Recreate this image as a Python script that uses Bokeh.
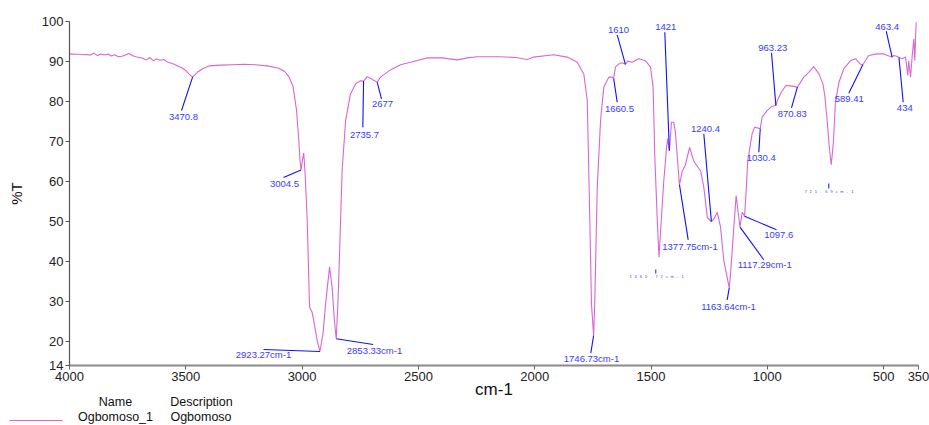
import numpy as np
from bokeh.plotting import figure
from bokeh.models import Range1d, FixedTicker
from bokeh.core.properties import value
from bokeh.embed import file_html
from bokeh.resources import INLINE

# ---------------- data ----------------
wavenumber = [4000, 3985, 3970, 3955, 3940, 3925, 3910, 3895, 3880, 3865, 3850, 3835, 3820, 3805,
              3790, 3775, 3760, 3745, 3730, 3715, 3700, 3685, 3670, 3655, 3640, 3625, 3610, 3595,
              3580, 3565, 3550, 3535, 3520, 3500, 3485, 3470.8, 3450, 3428, 3400, 3350, 3300, 3250,
              3200, 3150, 3100, 3075, 3058, 3039, 3024, 3015, 3009, 3004.5, 2998, 2993, 2987, 2978,
              2968, 2957, 2950, 2935, 2923.27, 2910, 2899, 2882, 2871, 2861, 2853.33, 2845, 2839,
              2828, 2813, 2792, 2770, 2749, 2735.7, 2720, 2700, 2677, 2663, 2620, 2577, 2534, 2462,
              2400, 2333, 2290, 2247, 2147, 2080, 2032, 2005, 1919, 1860, 1817, 1789, 1774, 1763,
              1756, 1746.73, 1742, 1731, 1717, 1703, 1681, 1667, 1660.5, 1653, 1638, 1625, 1610,
              1600, 1581, 1552, 1524, 1502, 1491, 1484, 1473, 1465.72, 1456, 1445, 1433, 1428, 1421,
              1412, 1402, 1395, 1377.75, 1366, 1352, 1334, 1316, 1295, 1287, 1273, 1258, 1240.4,
              1231, 1215, 1201, 1187, 1163.64, 1158, 1147, 1134, 1117.29, 1108, 1097.6, 1090, 1084,
              1065, 1054, 1030.4, 1022, 1000, 980, 963.23, 955, 940, 920, 900, 870.83, 843, 822,
              800, 778, 761, 753, 742, 733, 725, 716, 707, 692, 671, 642, 621, 599, 589.41, 564,
              528, 499, 477, 463.4, 456, 444, 434, 420, 406, 396, 392, 384, 377, 370, 366, 360]
transmittance = [91.9, 91.85, 91.8, 91.8, 91.7, 91.75, 91.6, 92.1, 91.5, 91.9, 91.6, 91.9, 91.4, 91.7,
                 91.2, 91.3, 91.6, 92.0, 91.5, 91.2, 91.0, 90.8, 90.4, 91.0, 90.2, 90.6, 90.3, 90.5,
                 89.9, 89.6, 89.3, 88.9, 88.5, 87.8, 86.8, 86.1, 87.3, 88.2, 88.9, 89.1, 89.2, 89.3,
                 89.2, 88.9, 88.3, 87.5, 86.3, 83.8, 77.8, 71.0, 65.3, 62.9, 65.5, 67.1, 62.0, 50.3,
                 28.6, 27.3, 25.2, 20.2, 17.5, 22.0, 29.4, 38.6, 33.6, 25.2, 20.7, 31.0, 42.0,
                 62.7, 75.2, 81.9, 84.4, 85.2, 85.1, 86.2, 85.6, 84.8, 86.1, 87.9, 89.2, 89.8, 90.9,
                 90.9, 90.4, 90.9, 91.2, 91.2, 91.0, 90.5, 91.1, 91.7, 91.1, 89.8, 86.9, 80.2, 50.2,
                 29.4, 21.5, 29.4, 58.6, 75.2, 83.6, 86.1, 86.1, 85.7, 88.6, 89.4, 89.7, 89.3,
                 90.1, 89.8, 90.7, 90.2, 88.6, 83.6, 66.9, 50.2, 41.1, 50.2, 60.2, 68.6, 70.7, 67.7,
                 74.8, 74.8, 72.2, 59.2, 62.5, 64.2, 68.5, 65.1, 63.3, 62.7, 58.6, 51.0, 50.0,
                 50.5, 52.3, 48.6, 40.2, 33.4, 36.9, 46.1, 56.5, 48.6, 52.3, 51.3, 58.6, 65.2,
                 72.0, 73.6, 73.2, 76.1, 77.8, 78.8, 79.0, 80.5, 82.3, 84.0, 83.9, 83.6, 86.1, 87.3,
                 88.7, 86.9, 84.4, 81.5, 74.8, 68.2, 64.2, 69.8, 79.8, 84.8, 88.2, 90.2, 90.7, 89.3, 89.2, 91.5,
                 91.9, 91.9, 91.4, 91.1, 91.5, 91.3, 91.0, 90.7, 91.1, 86.5, 90.2, 86.1, 91.5, 95.7, 90.2, 99.8]

peak_wn = [3470.8, 3004.5, 2923.27, 2853.33, 2735.7, 2677, 1746.73, 1660.5, 1610, 1421, 1377.75,
           1240.4, 1163.64, 1117.29, 1097.6, 1030.4, 963.23, 870.83, 589.41, 463.4, 434]
peak_text = ["3470.8", "3004.5", "2923.27cm-1", "2853.33cm-1", "2735.7", "2677", "1746.73cm-1",
             "1660.5", "1610", "1421", "1377.75cm-1", "1240.4", "1163.64cm-1", "1117.29cm-1",
             "1097.6", "1030.4", "963.23", "870.83", "589.41", "463.4", "434"]

tiny_text = ["1465.72cm-1", "721.69cm-1"]

x_ticks = [4000, 3500, 3000, 2500, 2000, 1500, 1000, 500, 350]
y_ticks = [14, 20, 30, 40, 50, 60, 70, 80, 90, 100]

legend_header = ["Name", "Description"]
legend_row = ["Ogbomoso_1", "Ogbomoso"]

# ---------------- layout (canvas pixels) ----------------
W, H = 929, 425
FL, FR, FT, FB = 69, 918, 21, 365          # where the plotting box sits on the canvas
XMAX, XMIN, YMIN, YMAX = 4000, 350, 14, 100


def X(px):
    return XMAX - (px - FL) * (XMAX - XMIN) / (FR - FL)


def Y(py):
    return YMAX - (py - FT) * (YMAX - YMIN) / (FB - FT)


leader_end_px = [(181, 110), (283, 177), (263, 349), (372.7, 344), (362.3, 126.7), (381, 98.3),
                 (590.3, 352.7), (616.7, 101.7), (616.7, 34.3), (664.3, 31.7), (687.7, 239.3),
                 (703.3, 133.3), (726.7, 299.3), (763.3, 259.3), (776, 229.3), (758.3, 151.7),
                 (771, 52.3), (791, 107.3), (848.3, 92.7), (885.7, 30.7), (902.7, 101.7)]
text_px = [(183, 116.5), (284, 183.5), (263, 354), (374, 349.5), (364, 134), (382, 103.5),
           (591, 358), (619, 108), (618, 29.5), (665.3, 26.5), (689.5, 246), (705, 128),
           (728, 305.5), (764.3, 264), (778.3, 234.5), (760.7, 157), (772.3, 47), (791.7, 113.5),
           (848.7, 98.5), (886.7, 26), (904.3, 107.5)]
tiny_tick_px = [(655.3, 269, 273), (828.3, 183, 188)]
tiny_start_px = [(630, 275.5), (805, 190.8)]
tiny_step = [5.2, 5.2]
legend_header_px = [(115, 401.5), (201, 401.5)]
legend_row_px = [(115, 416.5), (200.5, 416.5)]
legend_line_px = [(9, 420), (62, 420)]

CURVE = "#d966d6"
BLUE_TXT = "#3a3aff"
BLUE_LN = "#1010ff"
FONT = "Liberation Sans"

# the frame covers the whole canvas; axes are pinned at the data edges
p = figure(width=W, height=H, output_backend="svg", toolbar_location=None,
           x_range=Range1d(X(0), X(W)), y_range=Range1d(Y(H), Y(0)),
           min_border=0)
p.outline_line_color = None
p.xgrid.visible = False
p.ygrid.visible = False
p.background_fill_color = "white"
p.border_fill_color = "white"

# spectrum
spec = p.line(wavenumber, transmittance, line_color=CURVE, line_width=1.1)

# peak labels
peak_T = np.interp(peak_wn, wavenumber[::-1], transmittance[::-1])
p.segment(x0=peak_wn, y0=list(peak_T),
          x1=[X(e[0]) for e in leader_end_px], y1=[Y(e[1]) for e in leader_end_px],
          line_color=BLUE_LN, line_width=1.1)
p.text(x=[X(t[0]) for t in text_px], y=[Y(t[1]) for t in text_px], text=peak_text,
       text_font=value(FONT), text_font_size="9.5px", text_color=BLUE_TXT,
       text_align="center", text_baseline="middle")

# tiny labels
for (tx, t0, t1), (sx, sy), step, s in zip(tiny_tick_px, tiny_start_px, tiny_step, tiny_text):
    p.segment(x0=[X(tx)], y0=[Y(t0)], x1=[X(tx)], y1=[Y(t1)], line_color=BLUE_LN, line_width=1)
    xs = [X(sx + i * step) for i in range(len(s))]
    p.text(x=xs, y=[Y(sy)] * len(s), text=list(s), text_font=value(FONT),
           text_font_size="4px", text_color=BLUE_TXT, text_align="center",
           text_baseline="middle")

# axes
p.xaxis.fixed_location = YMIN
p.yaxis.fixed_location = XMAX
p.xaxis.bounds = (XMIN, XMAX)
p.yaxis.bounds = (YMIN, YMAX)
p.xaxis.ticker = FixedTicker(ticks=x_ticks)
p.yaxis.ticker = FixedTicker(ticks=y_ticks)
p.xaxis.axis_label = "cm-1"
p.yaxis.axis_label = "%T"
for ax in (p.xaxis, p.yaxis):
    ax.axis_label_text_font = FONT
    ax.axis_label_text_font_style = "normal"
    ax.axis_label_text_color = "#111111"
    ax.major_label_text_font = FONT
    ax.major_label_text_font_size = "13px"
    ax.major_label_text_color = "#222222"
    ax.minor_tick_line_color = None
    ax.major_tick_in = 0
    ax.major_tick_out = 4
p.xaxis.axis_label_text_font_size = "17px"
p.yaxis.axis_label_text_font_size = "15px"
p.xaxis.axis_line_color = "#8a8a8a"
p.xaxis.axis_line_width = 2.2
p.xaxis.major_tick_line_color = "#666666"
p.yaxis.axis_line_color = "#555555"
p.yaxis.axis_line_width = 1.2
p.yaxis.major_tick_line_color = "#555555"
p.xaxis.major_label_standoff = 2
p.yaxis.major_label_standoff = 2
p.xaxis.axis_label_standoff = -4
p.yaxis.axis_label_standoff = 14

# legend table: Name / Description
p.text(x=[X(h[0]) for h in legend_header_px], y=[Y(h[1]) for h in legend_header_px],
       text=legend_header, text_font=value(FONT), text_font_size="12.5px",
       text_color="#111111", text_align="center", text_baseline="middle")
p.text(x=[X(r[0]) for r in legend_row_px], y=[Y(r[1]) for r in legend_row_px],
       text=legend_row, text_font=value(FONT), text_font_size="12.5px",
       text_color="#111111", text_align="center", text_baseline="middle")
p.line(x=[X(q[0]) for q in legend_line_px], y=[Y(q[1]) for q in legend_line_px],
       line_color=CURVE, line_width=1.2)

open("out.html", "w").write(file_html(p, INLINE))
